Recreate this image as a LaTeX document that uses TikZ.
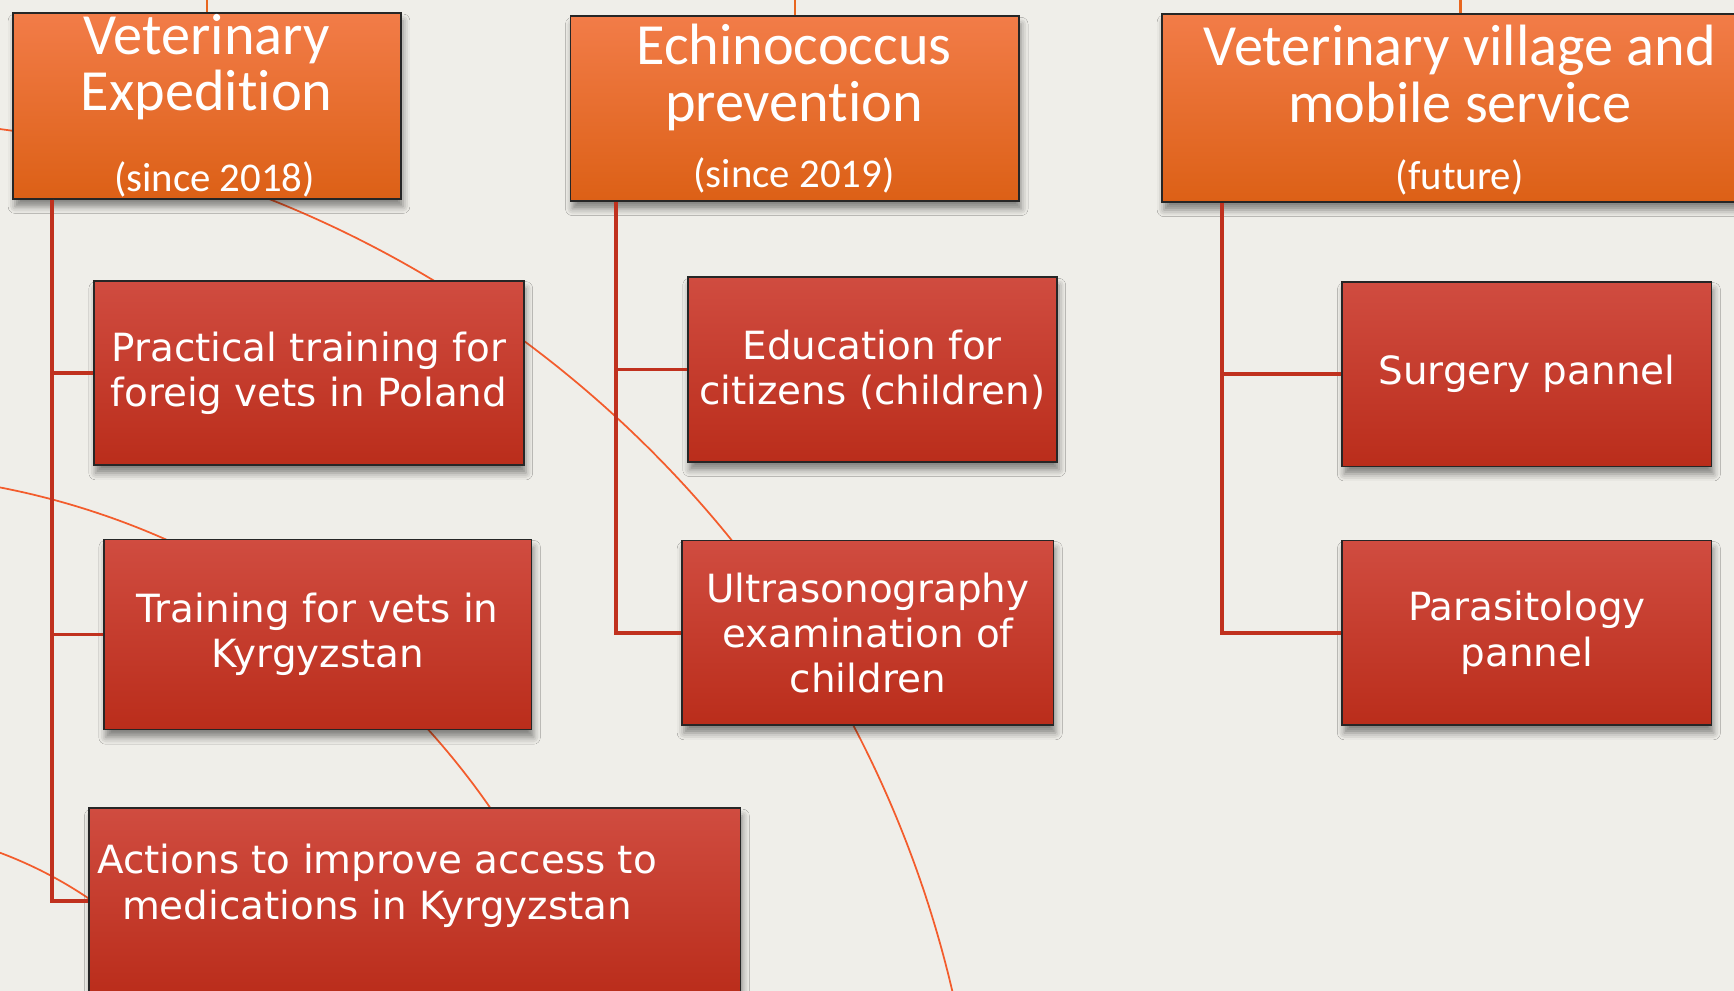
\documentclass[tikz,border=0pt]{standalone}
\usepackage{fontspec}
\setmainfont{DejaVu Sans}
\newfontfamily\headfont{Carlito}[Ligatures=NoCommon]
\usetikzlibrary{shadows.blur}
\definecolor{slidebg}{RGB}{239,238,233}
\definecolor{headtop}{RGB}{242,124,72}
\definecolor{headbot}{RGB}{220,96,22}
\definecolor{itemtop}{RGB}{208,76,64}
\definecolor{itembot}{RGB}{186,45,27}
\definecolor{branchred}{RGB}{192,49,30}
\definecolor{stemorange}{RGB}{232,102,31}
\definecolor{arcorange}{RGB}{243,92,44}

\begin{document}
\begin{tikzpicture}[x=0.02cm,y=-0.02cm,
  boxbase/.style={draw=black!85, line width=0.9pt, anchor=north west, inner sep=0pt,
    blur shadow={shadow xshift=1pt, shadow yshift=-4pt, shadow blur radius=3.5pt, shadow opacity=45}},
  headbox/.style={boxbase, top color=headtop, middle color=headtop!30!headbot, bottom color=headbot},
  itembox/.style={boxbase, top color=itemtop, middle color=itemtop!30!itembot, bottom color=itembot,
    text=white, align=center, font=\fontsize{20}{23.3}\selectfont},
  headtitle/.style={text=white, align=center, inner sep=0pt, font=\headfont\fontsize{30}{29}\selectfont},
  headsub/.style={text=white, inner sep=0pt, font=\headfont\fontsize{21}{24}\selectfont},
  itemtext/.style={text=white, align=center, inner sep=0pt, font=\fontsize{20}{23.3}\selectfont},
  branch/.style={branchred, line width=1.7pt},
  stem/.style={stemorange, line width=1.2pt},
  bgarc/.style={arcorange, line width=0.9pt}]
\useasboundingbox (0,0) rectangle (1568,896);
\fill[slidebg] (0,0) rectangle (1568,896);
\clip (0,0) rectangle (1568,896);

% Concentric background arcs (behind the boxes)
\coordinate (hub) at (-134,1130);
\foreach \r in {383,702,1022}
  \draw[bgarc] (hub) circle[radius=\r];

% Header boxes
\node[headbox, minimum width=7.02cm, minimum height=3.36cm] (h1) at (11,11) {};
\node[headbox, minimum width=8.12cm, minimum height=3.34cm] (h2) at (515,14) {};
\node[headbox, minimum width=10.8cm, minimum height=3.40cm] (h3) at (1050,12) {};
% Stems to the top edge
\foreach \h in {h1,h2,h3}
  \draw[stem] (\h.north) -- ++(0,-30);

\node[headtitle] (h1title) at (187,61) {Veterinary\\Expedition};
\node[headsub] (h1sub) at (194,162) {(since 2018)};
\node[headtitle] (h2title) at (718,70) {Echinococcus\\prevention};
\node[headsub] (h2sub) at (718,159) {(since 2019)};
\node[headtitle] (h3title) at (1320,67) {Veterinary village and\\mobile service};
\node[headsub] (h3sub) at (1320,160) {(future)};

% Item boxes
\node[itembox, minimum width=7.78cm, minimum height=3.34cm] (c1) at (84,253) {Practical training for\\foreig vets in Poland};
\node[itembox, minimum width=7.74cm, minimum height=3.44cm] (c2) at (93,487) {Training for vets in\\Kyrgyzstan};
\node[itembox, minimum width=11.78cm, minimum height=3.36cm] (c3) at (80,730) {};
\node[itemtext] (c3text) at (341,801) {Actions to improve access to\\medications in Kyrgyzstan};
\node[itembox, minimum width=6.68cm, minimum height=3.34cm] (c4) at (621,250) {Education for\\citizens (children)};
\node[itembox, minimum width=6.72cm, minimum height=3.34cm] (c5) at (616,488) {Ultrasonography\\examination of\\children};
\node[itembox, minimum width=6.68cm, minimum height=3.34cm] (c6) at (1213,254) {Surgery pannel};
\node[itembox, minimum width=6.68cm, minimum height=3.34cm] (c7) at (1213,488) {Parasitology\\pannel};

% Tree connectors
\path (h1.south west) ++(36,0) coordinate (trunkA);
\path (h2.south west) ++(42,0) coordinate (trunkB);
\path (h3.south west) ++(55,0) coordinate (trunkC);
\foreach \c in {c1,c2,c3}
  \draw[branch] (trunkA) |- (\c.west);
\foreach \c in {c4,c5}
  \draw[branch] (trunkB) |- (\c.west);
\foreach \c in {c6,c7}
  \draw[branch] (trunkC) |- (\c.west);
\end{tikzpicture}
\end{document}
